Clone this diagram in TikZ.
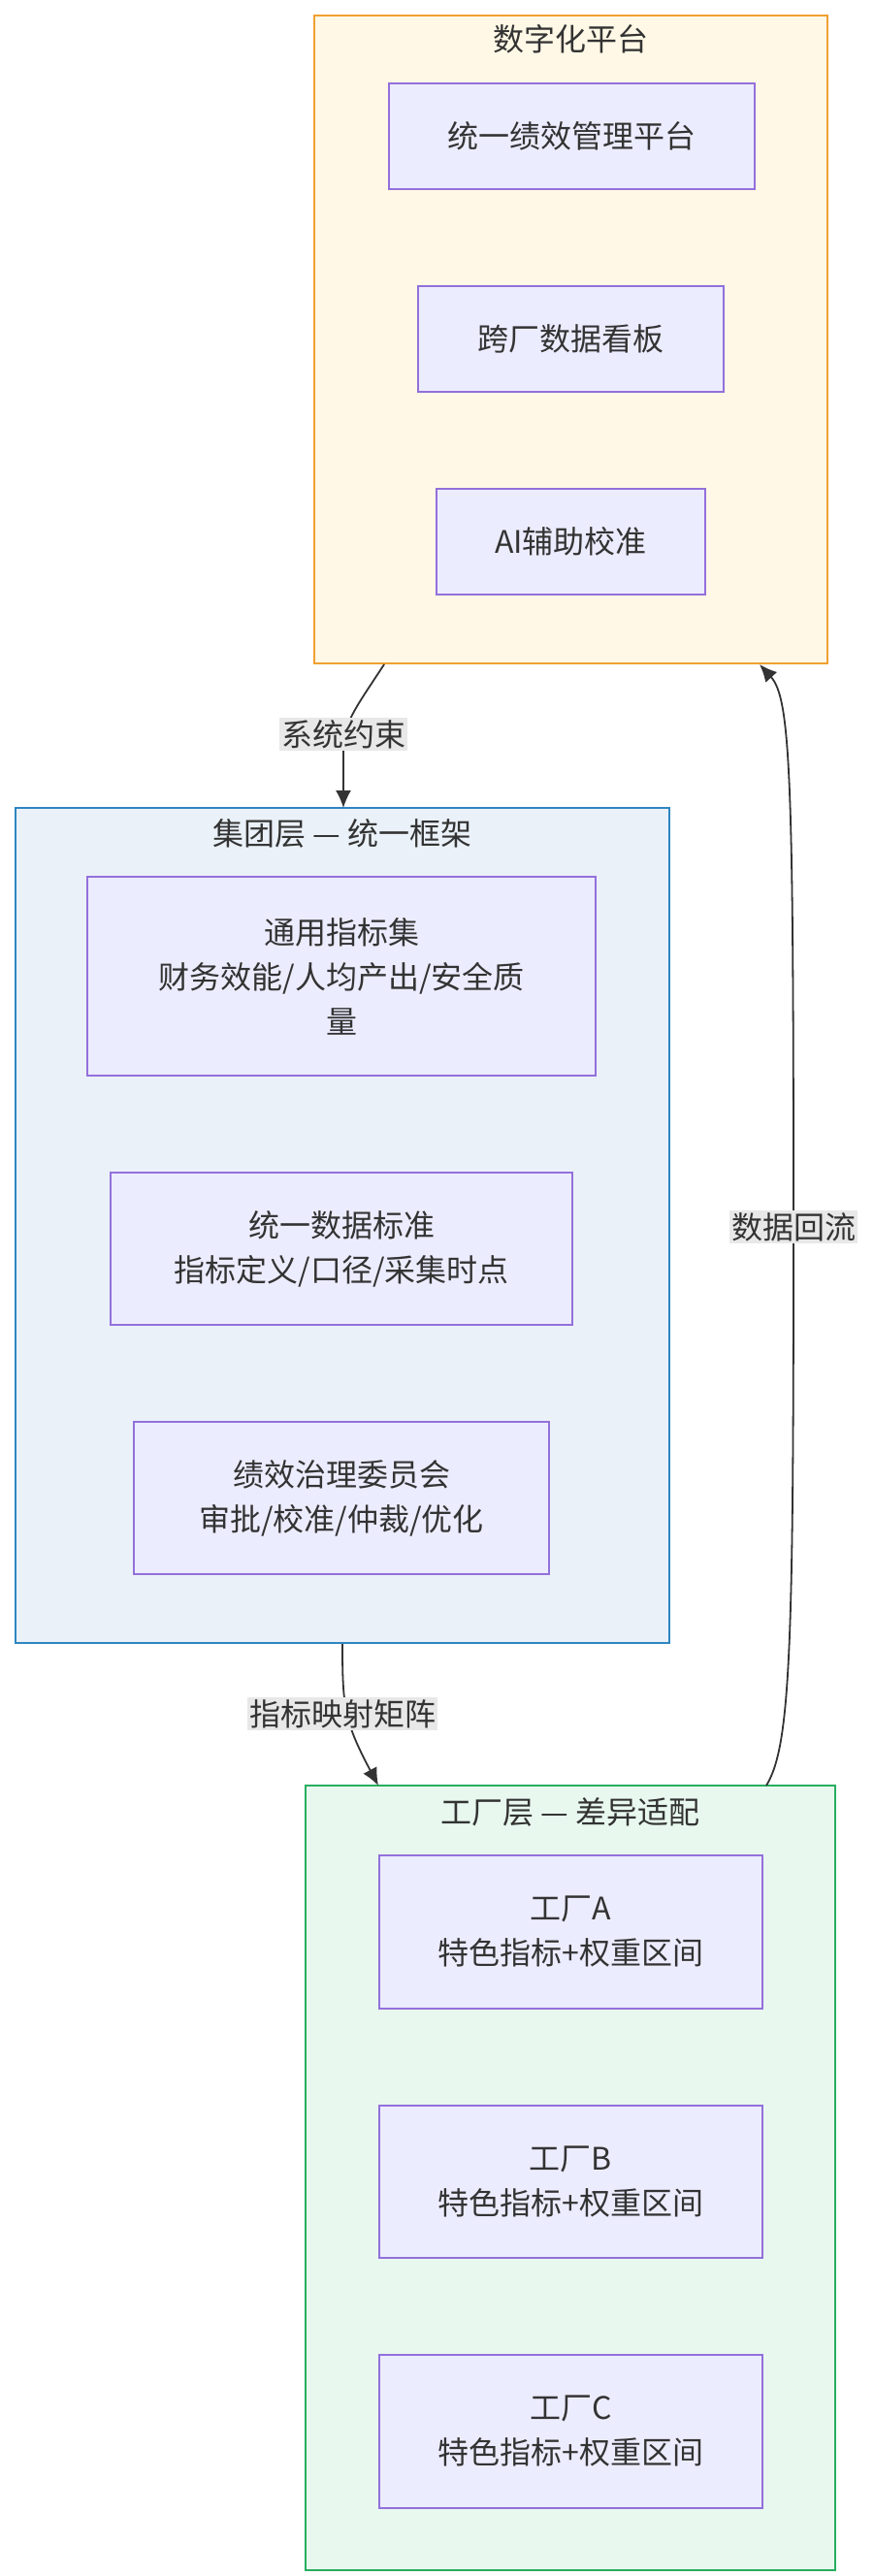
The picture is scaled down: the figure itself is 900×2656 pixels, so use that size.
\documentclass[tikz,border=0pt]{standalone}
\usepackage{fontspec}
\setmainfont{Noto Sans CJK SC}
\usetikzlibrary{arrows.meta}
\definecolor{txt}{HTML}{333333}
\definecolor{nfill}{HTML}{ECECFF}
\definecolor{nline}{HTML}{9370DB}
\definecolor{ofill}{HTML}{FFF8E6}
\definecolor{oline}{HTML}{F0A030}
\definecolor{bfill}{HTML}{EAF1F8}
\definecolor{bline}{HTML}{2E86C1}
\definecolor{gfill}{HTML}{E8F8EF}
\definecolor{gline}{HTML}{27AE60}
\definecolor{lbg}{HTML}{E8E8E8}
\tikzset{
  box/.style={draw=nline,fill=nfill,line width=1.6pt,inner sep=0pt},
  grp/.style={line width=1.8pt},
  ttl/.style={text=txt,font=\fontsize{32}{42}\selectfont},
  ntext/.style={text=txt,align=center,font=\fontsize{32}{46}\selectfont},
  elab/.style={fill=lbg,text=txt,inner sep=2pt,font=\fontsize{32}{42}\selectfont},
  conn/.style={draw=txt,line width=1.8pt,-{Latex[length=18pt,width=16pt]}}
}
\newcommand{\bx}[6]{% name, x1,y1,x2,y2, text
  \draw[box] (#2,#3) rectangle (#4,#5);
  \node[ntext] (#1) at ({(#2+#4)/2},{(#3+#5)/2}) {#6};
}
\begin{document}
\begin{tikzpicture}[x=1pt,y=-1pt]
\useasboundingbox (0,0) rectangle (900,2656);
% groups
\draw[grp,draw=oline,fill=ofill] (324,16) rectangle (853,684);
\node[ttl] (ot) at (588,40) {数字化平台};
\draw[grp,draw=bline,fill=bfill] (16,833) rectangle (690,1694);
\node[ttl] (bt) at (353,859) {集团层 — 统一框架};
\draw[grp,draw=gline,fill=gfill] (315,1841) rectangle (861,2650);
\node[ttl] (gt) at (588,1868) {工厂层 — 差异适配};
% nodes
\bx{o1}{401}{86}{778}{195}{统一绩效管理平台}
\bx{o2}{431}{295}{746}{404}{跨厂数据看板}
\bx{o3}{450}{504}{727}{613}{AI辅助校准}
\bx{g1}{90}{904}{614}{1109}{通用指标集\\财务效能/人均产出/安全质\\量}
\bx{g2}{114}{1209}{590}{1366}{统一数据标准\\指标定义/口径/采集时点}
\bx{g3}{138}{1466}{566}{1623}{绩效治理委员会\\审批/校准/仲裁/优化}
\bx{fa}{391}{1913}{786}{2071}{工厂A\\特色指标+权重区间}
\bx{fb}{391}{2171}{786}{2328}{工厂B\\特色指标+权重区间}
\bx{fc}{391}{2428}{786}{2586}{工厂C\\特色指标+权重区间}
% connector anchors
\coordinate (e1s) at (396,685);
\coordinate (e1e) at (354,833);
\coordinate (e2s) at (353,1695);
\coordinate (e2e) at (390,1841);
\coordinate (e3s) at (790,1841);
\coordinate (e3e) at (783,685);
\draw[conn] (e1s) .. controls (370,725) and (354,745) .. (354,770) -- (e1e);
\node[elab] (l1) at (354,757) {系统约束};
\draw[conn] (e2s) .. controls (353,1760) and (355,1775) .. (e2e);
\node[elab] (l2) at (353,1767) {指标映射矩阵};
\draw[conn] (e3s) .. controls (815,1800) and (818,1700) .. (818,1265) .. controls (818,800) and (815,720) .. (e3e);
\node[elab] (l3) at (818,1265) {数据回流};
\end{tikzpicture}
\end{document}
